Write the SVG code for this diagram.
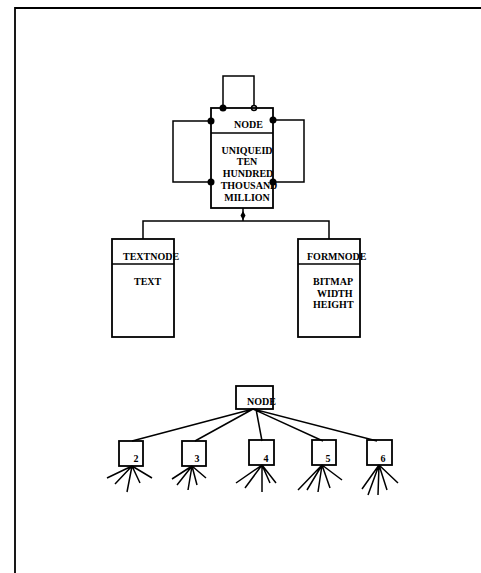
<svg xmlns="http://www.w3.org/2000/svg" width="481" height="573" viewBox="0 0 481 573">
<style>
.b{fill:none;stroke:#000;stroke-width:1.8}
.l{fill:none;stroke:#000;stroke-width:1.5}
.t{font-family:"Liberation Serif","Times New Roman",serif;font-weight:bold;font-size:10px;fill:#000}
.m{text-anchor:middle}
</style>
<rect width="481" height="573" fill="#fff"/>
<g id="frame"><path class="b" d="M15,573 V8 H481"/></g>
<g id="connectors">
<path class="l" d="M223,108 V76 H254 V108"/>
<path class="l" d="M211,121 H173 V182 H211"/>
<path class="l" d="M273,120 H304 V182 H273"/>
<path class="l" d="M243,208 V221 M143,239 V221 H329 V239"/>
<path d="M243,211 L245.5,215.5 L243,220 L240.5,215.5 Z" fill="#000"/>
<circle cx="223" cy="108" r="3.5" fill="#000"/>
<circle cx="254" cy="108" r="2.5" fill="#fff" stroke="#000" stroke-width="1.5"/>
<circle cx="211" cy="121" r="3.5" fill="#000"/>
<circle cx="211" cy="182" r="3.5" fill="#000"/>
<circle cx="273" cy="120" r="3.5" fill="#000"/>
<circle cx="273" cy="182" r="3.5" fill="#000"/>
<path class="l" d="M253,409 L132,441 M253,409 L195,441 M256,409 L262,441 M253,409 L323,441 M253,409 L377,441"/>
<path class="l" d="M132,466 L107,478 M132,466 L115,484 M132,466 L127,492 M132,466 L140,483 M132,466 L152,478"/>
<path class="l" d="M192,466 L172,479 M192,466 L177,485 M192,466 L188,490 M192,466 L197,485 M192,466 L206,478"/>
<path class="l" d="M262,465 L236,483 M262,465 L245,488 M262,465 L262,492 M262,465 L270,483 M262,465 L276,483"/>
<path class="l" d="M322,465 L298,490 M322,465 L307,490 M322,465 L318,492 M322,465 L330,488 M322,465 L342,480"/>
<path class="l" d="M379,465 L362,489 M379,465 L368,495 M379,465 L378,495 M379,465 L387,490 M379,465 L398,483"/>
</g>
<g id="node">
<rect class="b" x="211" y="108" width="62" height="100"/>
<line class="l" x1="211" y1="133" x2="273" y2="133"/>
<text class="t" x="234" y="128">NODE</text>
<text class="t m" x="247" y="154">UNIQUEID</text>
<text class="t m" x="247" y="165">TEN</text>
<text class="t m" x="248" y="177">HUNDRED</text>
<text class="t m" x="249" y="189">THOUSAND</text>
<text class="t m" x="247" y="201">MILLION</text>
</g>
<g id="textnode">
<rect class="b" x="112" y="239" width="62" height="98"/>
<line class="l" x1="112" y1="264" x2="174" y2="264"/>
<text class="t" x="123" y="260">TEXTNODE</text>
<text class="t" x="134" y="285">TEXT</text>
</g>
<g id="formnode">
<rect class="b" x="298" y="239" width="62" height="98"/>
<line class="l" x1="298" y1="264" x2="360" y2="264"/>
<text class="t" x="307" y="260">FORMNODE</text>
<text class="t" x="313" y="285">BITMAP</text>
<text class="t" x="317" y="297">WIDTH</text>
<text class="t" x="313" y="308">HEIGHT</text>
</g>
<g id="tree-node">
<rect class="b" x="236" y="386" width="37" height="23"/>
<text class="t" x="247" y="405">NODE</text>
</g>
<g id="n2"><rect class="b" x="119" y="441" width="24" height="25"/><text class="t m" x="136" y="462">2</text></g>
<g id="n3"><rect class="b" x="182" y="441" width="24" height="25"/><text class="t m" x="197" y="462">3</text></g>
<g id="n4"><rect class="b" x="249" y="440" width="25" height="25"/><text class="t m" x="266" y="462">4</text></g>
<g id="n5"><rect class="b" x="312" y="440" width="24" height="25"/><text class="t m" x="328" y="462">5</text></g>
<g id="n6"><rect class="b" x="367" y="440" width="25" height="25"/><text class="t m" x="383" y="462">6</text></g>
</svg>
